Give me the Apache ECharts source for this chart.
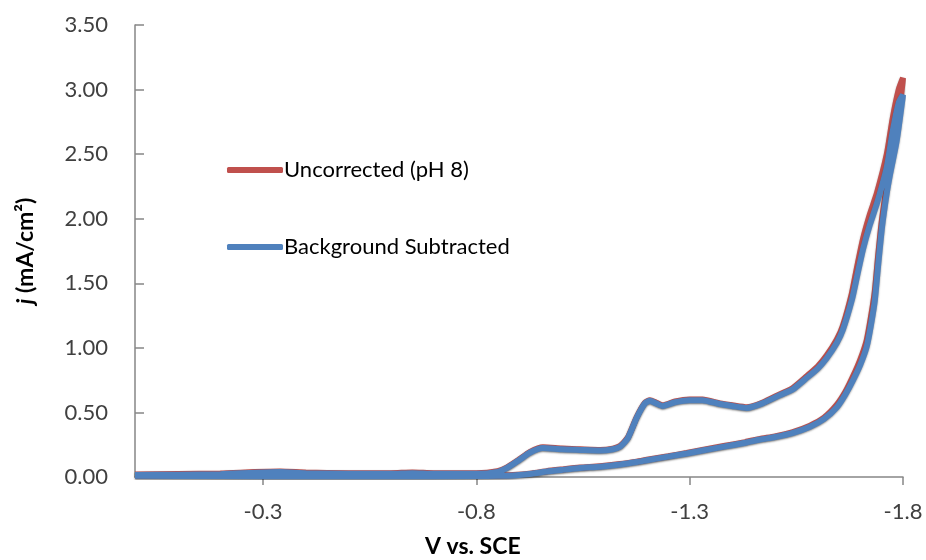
<!DOCTYPE html>
<html>
<head>
<meta charset="utf-8">
<script src="https://cdn.jsdelivr.net/npm/echarts@6/dist/echarts.min.js"></script>
<style>html,body{margin:0;padding:0;background:#fff;}#c{width:926px;height:560px;}</style>
</head>
<body>
<div id="c"></div>
<script>
// X tick labels (V vs. SCE)
const xTicks = [-1.8, -1.3, -0.8, -0.3];

// Background Subtracted: cathodic sweep (0 -> -1.8) then return (-1.8 -> 0)
const bgV = [0.00,-0.10,-0.20,-0.28,-0.34,-0.40,-0.50,-0.60,-0.65,-0.70,-0.80,-0.85,-0.872,-0.90,-0.926,-0.956,-1.00,-1.043,-1.09,-1.12,-1.137,-1.155,-1.176,-1.195,-1.207,-1.222,-1.237,-1.266,-1.30,-1.33,-1.371,-1.40,-1.434,-1.47,-1.512,-1.542,-1.575,-1.60,-1.621,-1.645,-1.659,-1.680,-1.692,-1.706,-1.722,-1.739,-1.762,-1.776,-1.790,-1.800,
  -1.785,-1.770,-1.762,-1.751,-1.742,-1.734,-1.725,-1.715,-1.700,-1.683,-1.665,-1.645,-1.615,-1.582,-1.54,-1.50,-1.465,-1.43,-1.38,-1.33,-1.293,-1.25,-1.20,-1.176,-1.137,-1.09,-1.043,-1.00,-0.965,-0.93,-0.886,-0.85,-0.80,-0.60,-0.40,-0.20,0.00];
const bgJ = [0.015,0.018,0.022,0.033,0.038,0.030,0.025,0.025,0.030,0.025,0.025,0.040,0.070,0.130,0.190,0.225,0.215,0.210,0.205,0.215,0.235,0.300,0.460,0.570,0.590,0.570,0.550,0.580,0.595,0.595,0.565,0.550,0.535,0.570,0.635,0.680,0.770,0.840,0.920,1.040,1.140,1.370,1.550,1.760,1.950,2.120,2.400,2.680,2.900,2.960,
  2.600,2.350,2.200,1.940,1.650,1.370,1.180,1.010,0.870,0.750,0.640,0.540,0.450,0.390,0.340,0.310,0.290,0.265,0.235,0.205,0.182,0.158,0.130,0.116,0.097,0.080,0.070,0.055,0.042,0.025,0.012,0.009,0.007,0.006,0.006,0.007,0.009];

// Uncorrected (pH 8)
const ucV = [0.00,-0.10,-0.20,-0.28,-0.34,-0.40,-0.50,-0.60,-0.65,-0.70,-0.80,-0.85,-0.872,-0.90,-0.926,-0.956,-1.00,-1.043,-1.09,-1.12,-1.137,-1.155,-1.176,-1.195,-1.207,-1.222,-1.237,-1.266,-1.30,-1.33,-1.371,-1.40,-1.434,-1.47,-1.512,-1.542,-1.575,-1.60,-1.621,-1.645,-1.659,-1.680,-1.692,-1.706,-1.722,-1.739,-1.762,-1.776,-1.790,-1.800,
  -1.785,-1.770,-1.762,-1.751,-1.742,-1.734,-1.725,-1.715,-1.700,-1.683,-1.665,-1.645,-1.615,-1.582,-1.54,-1.50,-1.465,-1.43,-1.38,-1.33,-1.293,-1.25,-1.20,-1.176,-1.137,-1.09,-1.043,-1.00,-0.965,-0.93,-0.886,-0.85,-0.80,-0.60,-0.40,-0.20,0.00];
const ucJ = [0.020,0.023,0.027,0.038,0.043,0.035,0.030,0.030,0.035,0.030,0.030,0.045,0.075,0.135,0.195,0.230,0.220,0.215,0.210,0.220,0.240,0.305,0.465,0.575,0.595,0.575,0.555,0.585,0.600,0.600,0.570,0.555,0.540,0.575,0.642,0.690,0.782,0.855,0.940,1.065,1.170,1.420,1.620,1.840,2.030,2.200,2.500,2.780,3.000,3.090,
  2.660,2.400,2.250,2.000,1.720,1.440,1.240,1.060,0.910,0.780,0.660,0.560,0.460,0.398,0.346,0.315,0.295,0.270,0.240,0.209,0.186,0.161,0.133,0.119,0.100,0.083,0.073,0.058,0.045,0.028,0.015,0.012,0.010,0.009,0.009,0.010,0.012];

const zip = (a, b) => a.map((v, i) => [v, b[i]]);

const chart = echarts.init(document.getElementById('c'), null, {renderer: 'canvas'});
const FONT = 'Lato';
const axisGray = '#868686';
const lineShadow = {shadowColor: 'rgba(0,0,0,0.35)', shadowBlur: 2, shadowOffsetY: 1};

chart.setOption({
  backgroundColor: '#fff',
  animation: false,
  textStyle: {fontFamily: FONT},
  title: {
    text: 'V vs. SCE',
    left: 420, top: 530,
    textStyle: {fontFamily: FONT, fontSize: 23, fontWeight: 'bold', color: '#000'}
  },
  grid: {left: 135, right: 23, top: 25, bottom: 83, containLabel: false},
  legend: {
    orient: 'vertical',
    left: 222, top: 154,
    itemWidth: 56, itemHeight: 6, itemGap: 55,
    icon: 'roundRect',
    textStyle: {fontFamily: FONT, fontSize: 22, color: '#000', padding: [0,0,0,-4]},
    data: [
      {name: 'Uncorrected (pH 8)', icon: 'roundRect', itemStyle: {color: '#C0504D'}},
      {name: 'Background Subtracted', icon: 'roundRect', itemStyle: {color: '#4F81BD'}}
    ]
  },
  xAxis: {
    type: 'value',
    min: -1.8, max: 0,
    inverse: true,
    axisLine: {show: true, onZero: false, lineStyle: {color: axisGray, width: 1.5}},
    axisTick: {show: true, inside: false, length: 8, customValues: xTicks, lineStyle: {color: axisGray, width: 1.5}},
    axisLabel: {customValues: xTicks, margin: 24, fontFamily: FONT, fontSize: 22, color: '#404040',
      formatter: v => v.toFixed(1)},
    splitLine: {show: false}
  },
  yAxis: {
    type: 'value',
    min: 0, max: 3.5, interval: 0.5,
    name: '{i|j} (mA/cm²)',
    nameLocation: 'middle',
    nameGap: 98,
    nameRotate: 90,
    nameTextStyle: {fontFamily: FONT, fontSize: 23, fontWeight: 'bold', color: '#000',
      rich: {i: {fontFamily: FONT, fontSize: 23, fontWeight: 'bold', fontStyle: 'italic', color: '#000'}}},
    axisLine: {show: true, lineStyle: {color: axisGray, width: 1.5}},
    axisTick: {show: true, inside: true, length: 9, lineStyle: {color: axisGray, width: 1.5}},
    axisLabel: {margin: 27, fontFamily: FONT, fontSize: 22, color: '#404040', formatter: v => v.toFixed(2)},
    splitLine: {show: false}
  },
  series: [
    {
      name: 'Uncorrected (pH 8)', type: 'line', data: zip(ucV, ucJ),
      showSymbol: false, symbol: 'none', smooth: 0.2,
      lineStyle: Object.assign({color: '#C0504D', width: 6}, lineShadow),
      itemStyle: {color: '#C0504D'}, z: 2
    },
    {
      name: 'Background Subtracted', type: 'line', data: zip(bgV, bgJ),
      showSymbol: false, symbol: 'none', smooth: 0.2,
      lineStyle: Object.assign({color: '#4F81BD', width: 6}, lineShadow),
      itemStyle: {color: '#4F81BD'}, z: 3
    }
  ]
});
</script>
</body>
</html>
